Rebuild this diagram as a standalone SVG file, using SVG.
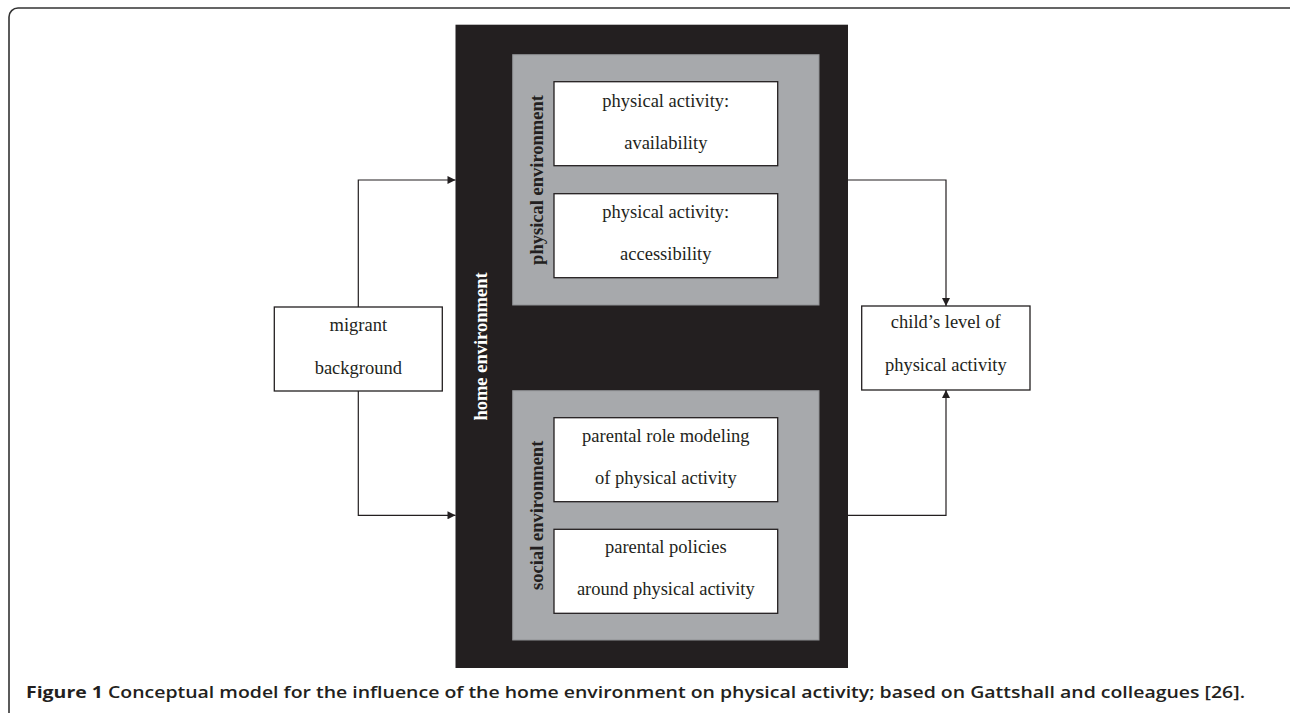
<svg xmlns="http://www.w3.org/2000/svg" width="1290" height="713" viewBox="0 0 1290 713">
<style>
.box{fill:#ffffff;stroke:#231f20;stroke-width:1.3}
.gray{fill:#a7a9ac;stroke:#8f9194;stroke-width:1}
.t{font-family:"Liberation Serif","Times New Roman",serif;font-size:18.5px;fill:#231f20;text-anchor:middle}
.vl{font-family:"Liberation Serif","Times New Roman",serif;font-size:18.5px;font-weight:bold;text-anchor:middle}
.conn{fill:none;stroke:#231f20;stroke-width:1.2}
.cap{font-family:"Open Sans","Noto Sans",sans-serif;font-size:16.5px;fill:#231f20}
</style>
<defs>
<marker id="arr" viewBox="0 0 10 10" refX="10" refY="5" markerUnits="userSpaceOnUse" markerWidth="9" markerHeight="8" orient="auto">
<path d="M0,0 L10,5 L0,10 z" fill="#231f20"/>
</marker>
</defs>
<rect x="0" y="0" width="1290" height="713" fill="#ffffff"/>
<rect id="frame" x="9" y="8" width="1295" height="720" rx="9" ry="9" fill="none" stroke="#333333" stroke-width="1.6"/>

<g id="home-environment">
<rect x="455.5" y="24.7" width="392.5" height="643.3" fill="#231f20"/>
<text class="vl" fill="#ffffff" transform="translate(486.5,346.5) rotate(-90)">home environment</text>
</g>

<g id="physical-environment">
<rect class="gray" x="512.7" y="54.7" width="306.3" height="250.3"/>
<text class="vl" fill="#231f20" transform="translate(542.5,180) rotate(-90)">physical environment</text>
</g>

<g id="availability">
<rect class="box" x="554" y="81.7" width="223.7" height="84"/>
<text class="t" x="665.8" y="106.5">physical activity:</text>
<text class="t" x="665.8" y="148.5">availability</text>
</g>

<g id="accessibility">
<rect class="box" x="554" y="193.7" width="223.7" height="84"/>
<text class="t" x="665.8" y="218.3">physical activity:</text>
<text class="t" x="665.8" y="260">accessibility</text>
</g>

<g id="social-environment">
<rect class="gray" x="512.7" y="390.7" width="306.3" height="249.3"/>
<text class="vl" fill="#231f20" transform="translate(542.5,515.3) rotate(-90)">social environment</text>
</g>

<g id="role-modeling">
<rect class="box" x="554" y="417.7" width="223.7" height="84"/>
<text class="t" x="665.8" y="441.7">parental role modeling</text>
<text class="t" x="665.8" y="484.3">of physical activity</text>
</g>

<g id="policies">
<rect class="box" x="554" y="529.3" width="223.7" height="84"/>
<text class="t" x="665.8" y="552.7">parental policies</text>
<text class="t" x="665.8" y="595">around physical activity</text>
</g>

<g id="migrant-background">
<rect class="box" x="274.3" y="307" width="168" height="84"/>
<text class="t" x="358.3" y="330.7">migrant</text>
<text class="t" x="358.3" y="373.7">background</text>
</g>

<g id="child-activity">
<rect class="box" x="861.7" y="306" width="168.3" height="84"/>
<text class="t" x="945.8" y="328.3">child’s level of</text>
<text class="t" x="945.8" y="371">physical activity</text>
</g>

<g id="connectors">
<path class="conn" d="M358.3,307 V180 H455.5" marker-end="url(#arr)"/>
<path class="conn" d="M358.3,391 V515.3 H455.5" marker-end="url(#arr)"/>
<path class="conn" d="M848,180 H946 V306" marker-end="url(#arr)"/>
<path class="conn" d="M848,515.3 H946 V390" marker-end="url(#arr)"/>
</g>

<text class="cap" x="26" y="698" textLength="1219" lengthAdjust="spacingAndGlyphs"><tspan font-weight="700">Figure 1</tspan><tspan font-weight="600"> Conceptual model for the influence of the home environment on physical activity; based on Gattshall and colleagues [26].</tspan></text>
</svg>
